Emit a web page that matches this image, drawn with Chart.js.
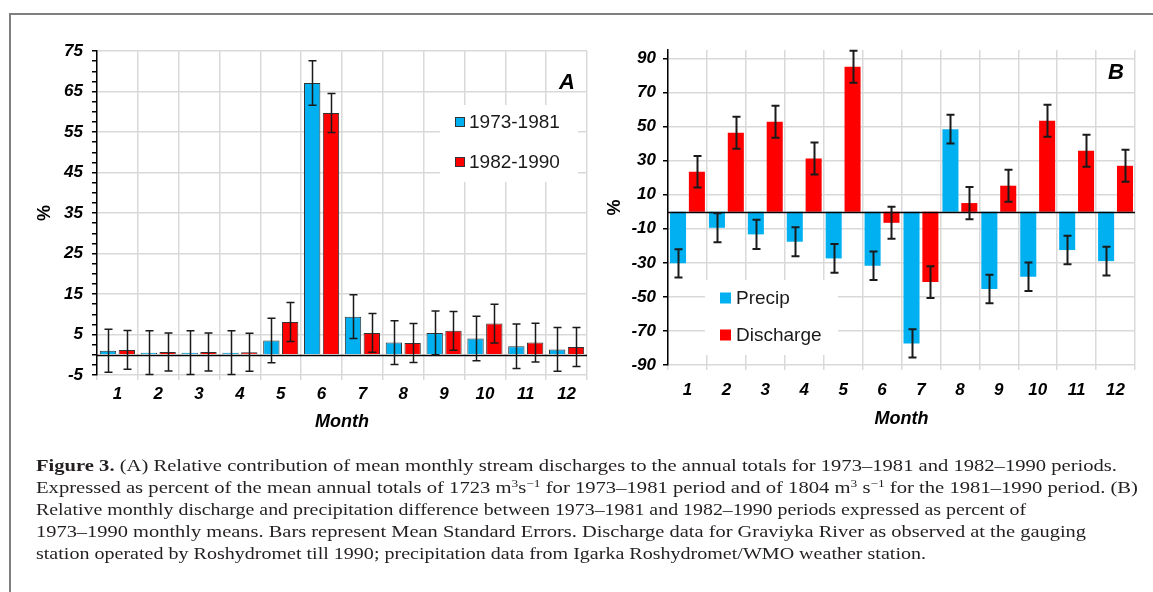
<!DOCTYPE html>
<html>
<head>
<meta charset="utf-8">
<script src="https://cdn.jsdelivr.net/npm/chart.js@4.4.0/dist/chart.umd.min.js"></script>
<style>
    body { margin: 0; background: #fff; width: 1153px; height: 592px; overflow: hidden; position: relative; }
    #frame { position: absolute; left: 9px; top: 13px; width: 1160px; height: 600px; border-left: 2px solid #7f7f7f; border-top: 2px solid #7f7f7f; }
    .panel { position: absolute; }
    #caption { position: absolute; left: 0; top: 440px; }
    #caption text { font-family: "Liberation Serif", "Times New Roman", serif; font-size: 17px; fill: #231f20; }
    #caption .sup { font-size: 11px; }
</style>
</head>
<body>
<div id="frame"></div>
<div class="panel" style="left:20px; top:30px;"><canvas id="chart-a" width="575" height="415"></canvas></div>
<div class="panel" style="left:595px; top:30px;"><canvas id="chart-b" width="555" height="415"></canvas></div>
<svg id="caption" width="1153" height="150" viewBox="0 440 1153 150">
    <text x="36" y="471" textLength="1081" lengthAdjust="spacingAndGlyphs"><tspan font-weight="bold">Figure 3.</tspan> (A) Relative contribution of mean monthly stream discharges to the annual totals for 1973–1981 and 1982–1990 periods.</text>
    <text x="36" y="493" textLength="1102" lengthAdjust="spacingAndGlyphs">Expressed as percent of the mean annual totals of 1723 m<tspan class="sup" dy="-6">3</tspan><tspan dy="6">s</tspan><tspan class="sup" dy="-6">−1</tspan><tspan dy="6"> for 1973–1981 period and of 1804 m</tspan><tspan class="sup" dy="-6">3</tspan><tspan dy="6"> s</tspan><tspan class="sup" dy="-6">−1</tspan><tspan dy="6"> for the 1981–1990 period. (B)</tspan></text>
    <text x="36" y="515" textLength="990" lengthAdjust="spacingAndGlyphs">Relative monthly discharge and precipitation difference between 1973–1981 and 1982–1990 periods expressed as percent of</text>
    <text x="36" y="537" textLength="1050" lengthAdjust="spacingAndGlyphs">1973–1990 monthly means. Bars represent Mean Standard Errors. Discharge data for Graviyka River as observed at the gauging</text>
    <text x="36" y="559" textLength="890" lengthAdjust="spacingAndGlyphs">station operated by Roshydromet till 1990; precipitation data from Igarka Roshydromet/WMO weather station.</text>
</svg>
<script>
// Month categories (shared by both panels)
const months = ['1', '2', '3', '4', '5', '6', '7', '8', '9', '10', '11', '12'];

// Panel A - share of annual discharge, %
const share7381 = [1.0, 0.5, 0.5, 0.5, 3.5, 67.1, 9.4, 3.0, 5.4, 4.0, 2.1, 1.3];
const share7381Err = [5.3, 5.4, 5.4, 5.4, 5.5, 5.5, 5.4, 5.4, 5.4, 5.5, 5.5, 5.4];
const share8290 = [1.2, 0.7, 0.7, 0.6, 8.1, 59.7, 5.4, 2.9, 5.9, 7.7, 3.0, 1.9];
const share8290Err = [4.8, 4.7, 4.7, 4.7, 4.8, 4.8, 4.8, 4.8, 4.8, 4.8, 4.8, 4.8];
const ticksA = [-5, 5, 15, 25, 35, 45, 55, 65, 75];

// Panel B - relative difference between periods, %
const precipDiff = [-30.3, -9.4, -13.3, -17.6, -27.4, -31.7, -77.3, 48.5, -45.4, -38.2, -22.5, -29.0];
const precipErr = [8.3, 8.5, 8.6, 8.5, 8.4, 8.4, 8.3, 8.4, 8.4, 8.4, 8.4, 8.4];
const dischargeDiff = [23.5, 46.4, 52.8, 31.3, 85.1, -6.5, -41.3, 5.1, 15.3, 53.4, 35.8, 27.0];
const dischargeErr = [9.3, 9.4, 9.4, 9.4, 9.4, 9.4, 9.3, 9.5, 9.4, 9.4, 9.4, 9.4];
const ticksB = [-90, -70, -50, -30, -10, 10, 30, 50, 70, 90];

const BLUE = '#00b0f0';
const RED = '#ff0000';
const GRID = '#d9d9d9';

Chart.defaults.font.family = '"Liberation Sans", Arial, sans-serif';
Chart.defaults.color = '#000';

// error bars, zero line, legend box and panel letter
const decor = {
    id: 'decor',
    beforeDatasetsDraw(chart, args, o) {
        const { ctx, chartArea: a } = chart;
        ctx.save();
        ctx.fillStyle = '#fff';
        ctx.fillRect(a.left + o.box[0], a.top + o.box[1], o.box[2], o.box[3]);
        ctx.font = '19px "Liberation Sans", Arial, sans-serif';
        ctx.textBaseline = 'middle';
        chart.data.datasets.forEach((ds, i) => {
            const y = a.top + o.rows[i];
            ctx.fillStyle = ds.backgroundColor;
            ctx.fillRect(a.left + o.markX, y - o.markSize / 2, o.markSize, o.markSize);
            if (o.markBorder) {
                ctx.strokeStyle = '#333';
                ctx.lineWidth = 1;
                ctx.strokeRect(a.left + o.markX + 0.5, y - o.markSize / 2 + 0.5, o.markSize - 1, o.markSize - 1);
            }
            ctx.fillStyle = '#1a1a1a';
            ctx.fillText(ds.label, a.left + o.textX, y + 1);
        });
        ctx.restore();
    },
    afterDatasetsDraw(chart, args, o) {
        const { ctx, chartArea: a } = chart;
        const ys = chart.scales.y;
        ctx.save();
        // zero line
        const y0 = Math.round(ys.getPixelForValue(0)) + 0.5;
        ctx.strokeStyle = '#000';
        ctx.lineWidth = 1.5;
        ctx.beginPath();
        ctx.moveTo(a.left, y0);
        ctx.lineTo(a.right, y0);
        ctx.stroke();
        // error bars
        ctx.strokeStyle = '#1a1a1a';
        ctx.lineWidth = o.errWidth;
        chart.data.datasets.forEach((ds, di) => {
            chart.getDatasetMeta(di).data.forEach((bar, i) => {
                const v = ds.data[i], e = ds.errors[i];
                const top = ys.getPixelForValue(v + e);
                const bot = ys.getPixelForValue(v - e);
                const x = Math.round(bar.x) + 0.5;
                ctx.beginPath();
                ctx.moveTo(x, top);
                ctx.lineTo(x, bot);
                ctx.moveTo(x - o.cap, top);
                ctx.lineTo(x + o.cap, top);
                ctx.moveTo(x - o.cap, bot);
                ctx.lineTo(x + o.cap, bot);
                ctx.stroke();
            });
        });
        // panel letter
        ctx.fillStyle = '#000';
        ctx.font = 'italic bold 22px "Liberation Sans", Arial, sans-serif';
        ctx.textAlign = 'center';
        ctx.textBaseline = 'middle';
        ctx.fillText(o.letter, a.right - o.letterPos[0], a.top + o.letterPos[1]);
        ctx.restore();
    }
};

const tickFont = { size: 17, weight: 'bold', style: 'italic' };

function xAxis(labelPad, titlePad, height) {
    return {
        grid: { color: GRID, lineWidth: 1.5, tickLength: 5, tickColor: GRID },
        border: { display: false },
        ticks: { font: tickFont, padding: labelPad, color: '#000' },
        title: { display: true, text: 'Month', font: { size: 18, weight: 'bold', style: 'italic' }, padding: { top: 0, bottom: titlePad } },
        afterFit: (s) => { s.height = height; }
    };
}

// Panel A
const minorA = [];
for (let v = ticksA[0]; v <= ticksA[ticksA.length - 1]; v += 2.5) minorA.push(v);

new Chart(document.getElementById('chart-a'), {
    type: 'bar',
    data: {
        labels: months,
        datasets: [{
            label: '1973-1981',
            data: share7381,
            errors: share7381Err,
            backgroundColor: BLUE,
            borderColor: '#333',
            borderWidth: 1,
            categoryPercentage: 0.92,
            barPercentage: 0.87
        }, {
            label: '1982-1990',
            data: share8290,
            errors: share8290Err,
            backgroundColor: RED,
            borderColor: '#333',
            borderWidth: 1,
            categoryPercentage: 0.92,
            barPercentage: 0.87
        }]
    },
    options: {
        responsive: false,
        animation: false,
        layout: { padding: { top: 21, right: 8, left: 0, bottom: 0 } },
        plugins: {
            legend: { display: false },
            tooltip: { enabled: false },
            decor: {
                box: [343, 54, 138, 77], rows: [71, 111], markX: 358, markSize: 10, markBorder: true, textX: 372,
                errWidth: 1.5, cap: 4, letter: 'A', letterPos: [20, 32]
            }
        },
        scales: {
            x: xAxis(4, 12, 70),
            y: {
                min: -5,
                max: 75,
                afterBuildTicks: (s) => { s.ticks = minorA.map(v => ({ value: v })); },
                grid: {
                    color: (c) => (c.tick && ticksA.includes(c.tick.value)) ? GRID : 'rgba(0,0,0,0)',
                    lineWidth: 1.5, tickLength: 5, tickColor: '#000'
                },
                border: { color: '#000', width: 1.5 },
                ticks: { font: tickFont, padding: 9, autoSkip: false, color: '#000', callback: (v) => ticksA.includes(v) ? v : '' },
                title: { display: true, text: '%', font: { size: 18, weight: 'bold' }, padding: { top: 14, bottom: 0 } },
                afterFit: (s) => { s.width = 77; }
            }
        }
    },
    plugins: [decor]
});

// Panel B
new Chart(document.getElementById('chart-b'), {
    type: 'bar',
    data: {
        labels: months,
        datasets: [{
            label: 'Precip',
            data: precipDiff,
            errors: precipErr,
            backgroundColor: BLUE,
            borderWidth: 0,
            categoryPercentage: 0.97,
            barPercentage: 0.85
        }, {
            label: 'Discharge',
            data: dischargeDiff,
            errors: dischargeErr,
            backgroundColor: RED,
            borderWidth: 0,
            categoryPercentage: 0.97,
            barPercentage: 0.85
        }]
    },
    options: {
        responsive: false,
        animation: false,
        layout: { padding: { top: 20, right: 15, left: 0, bottom: 0 } },
        plugins: {
            legend: { display: false },
            tooltip: { enabled: false },
            decor: {
                box: [37, 230, 133, 75], rows: [248, 285], markX: 52, markSize: 11, markBorder: false, textX: 68,
                errWidth: 2, cap: 4, letter: 'B', letterPos: [19, 23]
            }
        },
        scales: {
            x: xAxis(10, 15, 80),
            y: {
                min: -90,
                max: 95,
                afterBuildTicks: (s) => { s.ticks = ticksB.map(v => ({ value: v })); },
                grid: { color: GRID, lineWidth: 1.5, tickLength: 5, tickColor: '#000' },
                border: { color: '#000', width: 1.5 },
                ticks: { font: tickFont, padding: 7, autoSkip: false, color: '#000' },
                title: { display: true, text: '%', font: { size: 18, weight: 'bold' }, padding: { top: 9, bottom: 0 } },
                afterFit: (s) => { s.width = 73; }
            }
        }
    },
    plugins: [decor]
});
</script>
</body>
</html>
